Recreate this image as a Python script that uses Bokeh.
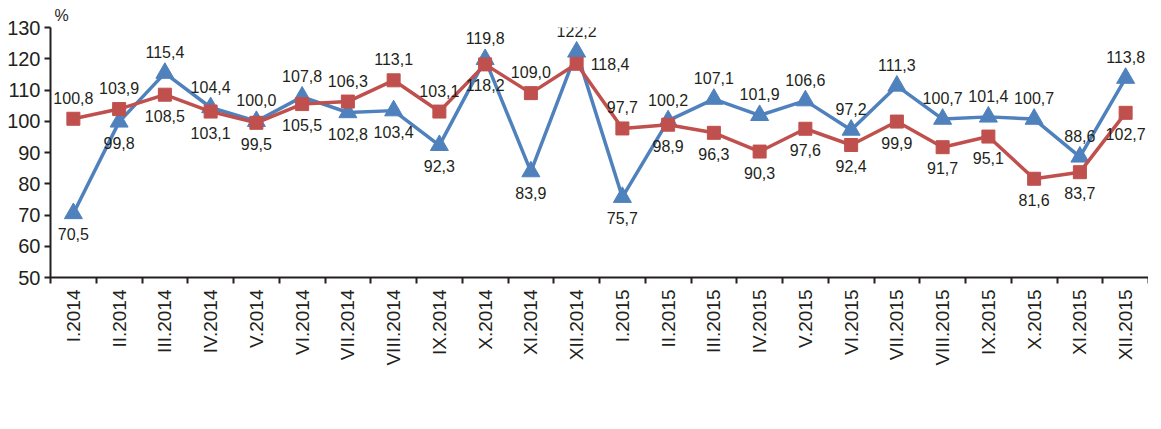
from math import pi
from bokeh.plotting import figure
from bokeh.models import (ColumnDataSource, Range1d, LinearAxis, FixedTicker, Legend,
                          LegendItem)
from bokeh.embed import file_html
from bokeh.resources import INLINE

months = ["I.2014", "II.2014", "III.2014", "IV.2014", "V.2014", "VI.2014", "VII.2014",
          "VIII.2014", "IX.2014", "X.2014", "XI.2014", "XII.2014",
          "I.2015", "II.2015", "III.2015", "IV.2015", "V.2015", "VI.2015", "VII.2015",
          "VIII.2015", "IX.2015", "X.2015", "XI.2015", "XII.2015"]

prev_month = [70.5, 99.8, 115.4, 104.4, 100.0, 107.8, 102.8, 103.4, 92.3, 119.8, 83.9, 122.2,
              75.7, 100.2, 107.1, 101.9, 106.6, 97.2, 111.3, 100.7, 101.4, 100.7, 88.6, 113.8]
prev_year = [100.8, 103.9, 108.5, 103.1, 99.5, 105.5, 106.3, 113.1, 103.1, 118.2, 109.0, 118.4,
             97.7, 98.9, 96.3, 90.3, 97.6, 92.4, 99.9, 91.7, 95.1, 81.6, 83.7, 102.7]

# label placement relative to the marker
prev_month_pos = ["below", "below", "above", "above", "above", "above", "below", "below",
                  "below", "above", "below", "above",
                  "below", "above", "above", "above", "above", "above", "above", "above",
                  "above", "above", "above", "above"]
prev_year_pos = ["above", "above", "below", "below", "below", "below", "above", "above",
                 "above", "below", "above", "right",
                 "above", "below", "below", "below", "below", "below", "below", "below",
                 "below", "below", "below", "below"]

y_ticks = [50, 60, 70, 80, 90, 100, 110, 120, 130]
y_unit = "%"
series_names = ["Luna precedentă = 100", "Luna corespunzătoare din anul precedent = 100"]

BLUE = "#4F81BD"
RED = "#C0504D"
TXT = "#231F20"
FONT = "Liberation Sans"

STYLE = {
    "above": dict(dx=0, dy=-15, align="center", base="bottom"),
    "below": dict(dx=0, dy=15, align="center", base="top"),
    "right": dict(dx=14, dy=0, align="left", base="middle"),
}

n = len(months)
centers = [i + 0.5 for i in range(n)]      # category band centres on the linear x scale
bounds = list(range(n + 1))                # band boundaries (tick marks)


def fmt(v):
    return f"{v:.1f}".replace(".", ",")


def make_source(vals, pos):
    return ColumnDataSource(dict(
        x=centers, v=vals, t=[fmt(v) for v in vals],
        dx=[STYLE[k]["dx"] for k in pos], dy=[STYLE[k]["dy"] for k in pos],
        al=[STYLE[k]["align"] for k in pos], bl=[STYLE[k]["base"] for k in pos]))


p = figure(x_range=Range1d(0, n), y_range=Range1d(50, 130),
           frame_width=1098, frame_height=250, output_backend="svg", toolbar_location=None,
           x_axis_location=None, y_axis_location=None, title=y_unit,
           min_border_left=50, min_border_right=0, min_border_top=0,
           min_border_bottom=0)
p.outline_line_color = None
p.grid.grid_line_color = None
p.background_fill_color = "white"
p.title.align = "left"
p.title.offset = 4
p.title.text_font = FONT
p.title.text_font_size = "16px"
p.title.text_font_style = "normal"
p.title.text_color = TXT
p.title.standoff = 8

# y axis
yax = LinearAxis(ticker=FixedTicker(ticks=y_ticks, minor_ticks=[]), major_tick_in=0,
                 major_tick_out=6, minor_tick_line_color=None, axis_line_width=2,
                 major_tick_line_width=2, axis_line_color=TXT, major_tick_line_color=TXT,
                 major_label_text_font=FONT, major_label_text_font_size="20px",
                 major_label_text_color=TXT, major_label_standoff=4)
p.add_layout(yax, "left")

# x axis: labels at band centres, tick marks (minor) at band boundaries
xax = LinearAxis(ticker=FixedTicker(ticks=centers, minor_ticks=bounds),
                 major_label_overrides={c: m for c, m in zip(centers, months)},
                 axis_line_width=2, axis_line_color=TXT,
                 major_tick_line_color=None, major_tick_in=0, major_tick_out=6,
                 minor_tick_line_color=TXT, minor_tick_line_width=2,
                 minor_tick_in=0, minor_tick_out=6,
                 major_label_orientation=pi / 2,
                 major_label_text_font=FONT, major_label_text_font_size="19px",
                 major_label_text_color=TXT, major_label_standoff=6)
p.add_layout(xax, "below")

src_m = make_source(prev_month, prev_month_pos)
src_y = make_source(prev_year, prev_year_pos)

bl = p.line("x", "v", source=src_m, line_color=BLUE, line_width=3.5)
bs = p.scatter("x", "v", source=src_m, marker="triangle", size=18,
               fill_color=BLUE, line_color=BLUE)
rl = p.line("x", "v", source=src_y, line_color=RED, line_width=3.5)
rs = p.scatter("x", "v", source=src_y, marker="square", size=13,
               fill_color=RED, line_color=RED)

for src in (src_m, src_y):
    p.text("x", "v", text="t", source=src, x_offset="dx", y_offset="dy",
           text_align="al", text_baseline="bl", text_font_size="16px",
           text_color=TXT, text_font={"value": FONT})

legend = Legend(items=[LegendItem(label=series_names[0], renderers=[bl, bs]),
                       LegendItem(label=series_names[1], renderers=[rl, rs])],
                orientation="horizontal", location="center", glyph_width=50,
                spacing=60, label_text_font=FONT, label_text_font_size="21px",
                label_text_color=TXT, border_line_color=None, background_fill_alpha=0,
                padding=0, margin=2, label_standoff=4)
p.add_layout(legend, "below")

open("out.html", "w").write(file_html(p, INLINE))
